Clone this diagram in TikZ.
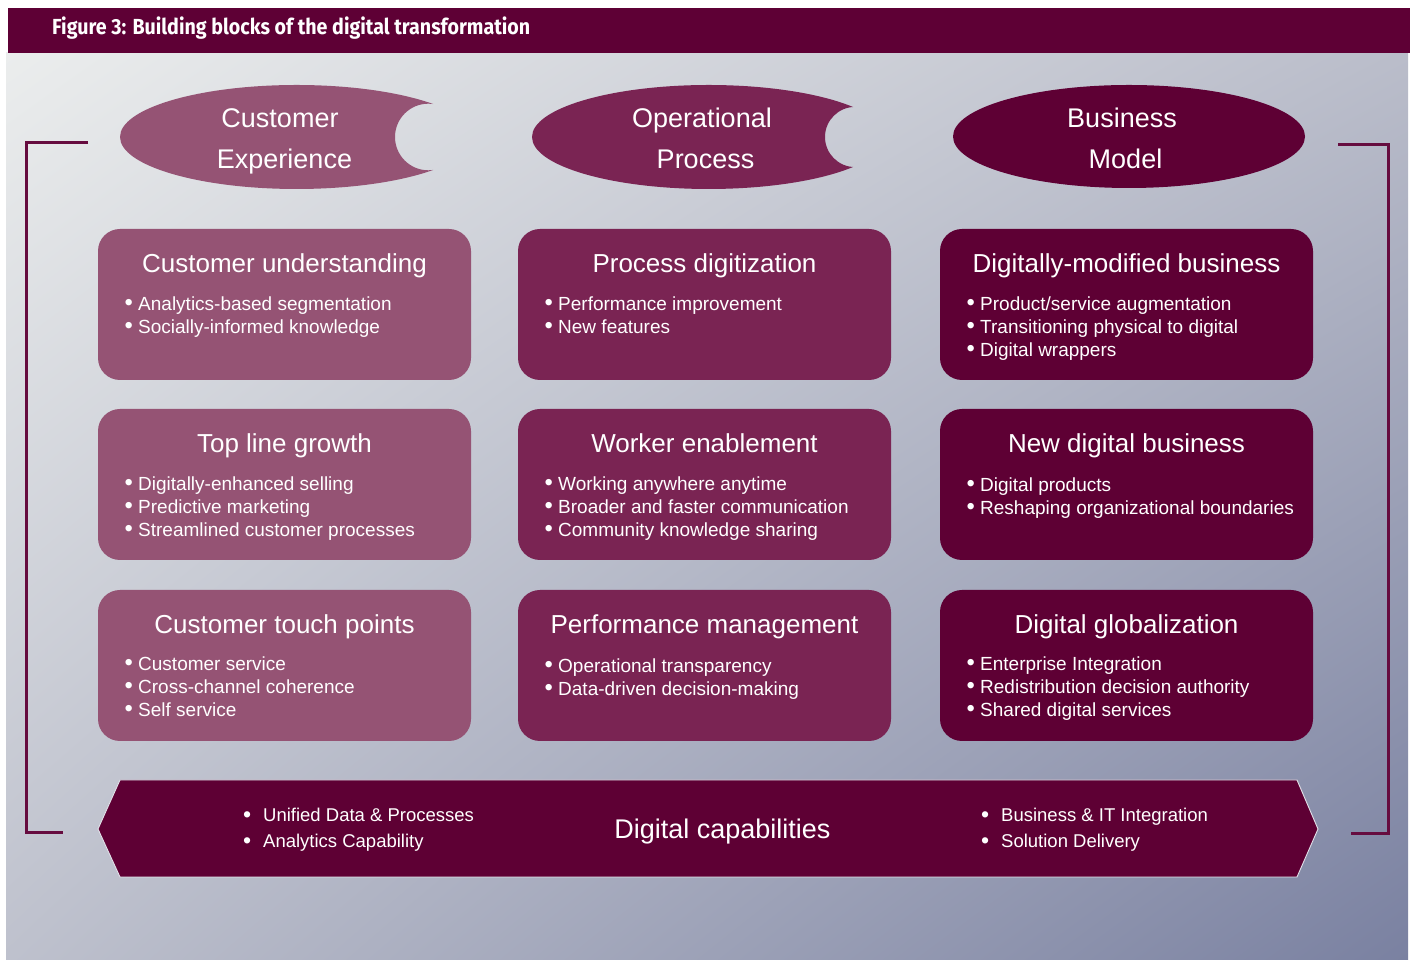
\documentclass[tikz,border=0pt]{standalone}
\usepackage{fontspec}
\usepackage{graphicx}
\usetikzlibrary{shadings}
\setmainfont{Liberation Sans}
\newfontfamily\headfont{Fira Sans}
\definecolor{hdr}{HTML}{5E0035}
\definecolor{cone}{HTML}{955374}
\definecolor{ctwo}{HTML}{7A2453}
\definecolor{cthree}{HTML}{5E0034}
\definecolor{brk}{HTML}{660C3F}
\definecolor{bnd}{HTML}{E2E3EA}
\definecolor{bgUL}{HTML}{EBEDED}
\definecolor{bgUR}{HTML}{BABDCA}
\definecolor{bgLL}{HTML}{BEC1CD}
\definecolor{bgLR}{HTML}{7A81A1}
\newcommand\bigdot{\smash{\scalebox{1.25}{•}}}
\newcommand\blist[4]{%
  \foreach \t [count=\i] in {#4}
    \node[bul] (#1-\i) at (#2, #3-22.7*\i+22.7) {\makebox[12pt][l]{\hspace*{-1.5pt}\bigdot}\t};}
\begin{document}
\begin{tikzpicture}[x=1pt,y=1pt,
  blk/.style={rounded corners=22pt, minimum width=373pt, minimum height=151pt, inner sep=0pt, draw=none},
  ttl/.style={anchor=base, text=white, font=\fontsize{26}{30}\selectfont, inner sep=0pt},
  bul/.style={anchor=base west, text=white, font=\fontsize{19}{22}\selectfont, inner sep=0pt},
  etx/.style={anchor=base, text=white, font=\fontsize{27}{30}\selectfont, inner sep=0pt},
  bb/.style={anchor=base west, text=white, font=\fontsize{18.5}{22}\selectfont, inner sep=0pt},
  brkline/.style={draw=brk, line width=3pt}]
\useasboundingbox (0,0) rectangle (1413,961);
% background panel and header
\shade[upper left=bgUL, upper right=bgUR, lower left=bgLL, lower right=bgLR] (6,2) rectangle (1408,908);
\fill[hdr] (8,908) rectangle (1410,953);
\node[anchor=base west, inner sep=0pt, text=white] (hd) at (52,926)
  {\resizebox{478pt}{\height}{\headfont\bfseries\fontsize{21.8}{24}\selectfont Figure 3: Building blocks of the digital transformation}};
% ellipses
\begin{scope}
  \clip (100,760) rectangle (433,890);
  \fill[cone, even odd rule] (296.6,824) ellipse [x radius=176.6, y radius=52] (428.3,824) circle [radius=33.3];
\end{scope}
\begin{scope}
  \clip (510,760) rectangle (853,890);
  \fill[ctwo, even odd rule] (708.7,824) ellipse [x radius=176.7, y radius=52] (855.1,824) circle [radius=30.1];
\end{scope}
\fill[cthree] (1129,824.5) ellipse [x radius=176, y radius=51.5];
\node[etx] (ce1) at (280,833) {Customer};
\node[etx] (ce2) at (284.5,792) {Experience};
\node[etx] (op1) at (702,833) {Operational};
\node[etx] (op2) at (705.5,792) {Process};
\node[etx] (bm1) at (1122,833) {Business};
\node[etx] (bm2) at (1125.5,792) {Model};
% blocks
\node[blk, fill=cone]   (b11) at (284.5,656.5) {};
\node[blk, fill=ctwo]   (b12) at (704.5,656.5) {};
\node[blk, fill=cthree] (b13) at (1126.5,656.5) {};
\node[blk, fill=cone]   (b21) at (284.5,476.5) {};
\node[blk, fill=ctwo]   (b22) at (704.5,476.5) {};
\node[blk, fill=cthree] (b23) at (1126.5,476.5) {};
\node[blk, fill=cone]   (b31) at (284.5,295.5) {};
\node[blk, fill=ctwo]   (b32) at (704.5,295.5) {};
\node[blk, fill=cthree] (b33) at (1126.5,295.5) {};
% titles
\node[ttl] (t11) at (284.5,688) {Customer understanding};
\node[ttl] (t12) at (704.5,688) {Process digitization};
\node[ttl] (t13) at (1126.5,688) {Digitally-modified business};
\node[ttl] (t21) at (284.5,508) {Top line growth};
\node[ttl] (t22) at (704.5,508) {Worker enablement};
\node[ttl] (t23) at (1126.5,508) {New digital business};
\node[ttl] (t31) at (284.5,327) {Customer touch points};
\node[ttl] (t32) at (704.5,327) {Performance management};
\node[ttl] (t33) at (1126.5,327) {Digital globalization};
% bullets
\blist{l11}{126}{650}{Analytics-based segmentation,Socially-informed knowledge}
\blist{l12}{546}{650}{Performance improvement,New features}
\blist{l13}{968}{650}{Product/service augmentation,Transitioning physical to digital,Digital wrappers}
\blist{l21}{126}{470}{Digitally-enhanced selling,Predictive marketing,Streamlined customer processes}
\blist{l22}{546}{470}{Working anywhere anytime,Broader and faster communication,Community knowledge sharing}
\blist{l23}{968}{469}{Digital products,Reshaping organizational boundaries}
\blist{l31}{126}{290}{Customer service,Cross-channel coherence,Self service}
\blist{l32}{546}{288}{Operational transparency,Data-driven decision-making}
\blist{l33}{968}{290}{Enterprise Integration,Redistribution decision authority,Shared digital services}
% bottom banner
\coordinate (p1) at (98,132);
\coordinate (p2) at (120,181);
\coordinate (p3) at (1297,181);
\coordinate (p4) at (1318,132);
\coordinate (p5) at (1297,84);
\coordinate (p6) at (120,84);
\fill[cthree, draw=bnd, line width=0.9pt] (p1) -- (p2) -- (p3) -- (p4) -- (p5) -- (p6) -- cycle;
\node[etx] (dc) at (722.5,122) {Digital capabilities};
\node[bb] (dl1) at (243,139) {\makebox[20pt][l]{\bigdot}Unified Data \& Processes};
\node[bb] (dl2) at (243,113) {\makebox[20pt][l]{\bigdot}Analytics Capability};
\node[bb] (dr1) at (981,139) {\makebox[20pt][l]{\bigdot}Business \& IT Integration};
\node[bb] (dr2) at (981,113) {\makebox[20pt][l]{\bigdot}Solution Delivery};
% brackets
\coordinate (la) at (88,818);
\coordinate (lb) at (26,818);
\coordinate (lc) at (26,128);
\coordinate (ld) at (63,128);
\draw[brkline] (la) -- (lb) -- (lc) -- (ld);
\coordinate (ra) at (1338,816);
\coordinate (rb) at (1388,816);
\coordinate (rc) at (1388,127);
\coordinate (rd) at (1351,127);
\draw[brkline] (ra) -- (rb) -- (rc) -- (rd);
\end{tikzpicture}
\end{document}
